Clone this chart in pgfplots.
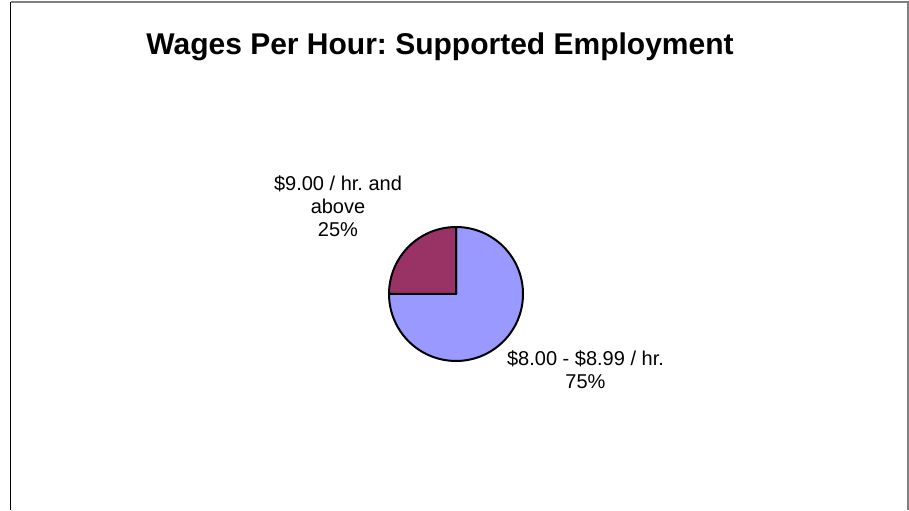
\documentclass[border=0pt]{standalone}
\usepackage{pgfplots}
\pgfplotsset{compat=1.18}
\usepackage{pgfplotstable}
\usepackage{fontspec}
\setmainfont{Liberation Sans}
\frenchspacing

\definecolor{pieblue}{HTML}{9999FF}
\definecolor{piered}{HTML}{993366}
\definecolor{framegray}{HTML}{808080}

% share of each wage band, in percent (clockwise from 12 o'clock)
\pgfplotstableread{
band value
low  75
high 25
}\piedata
\pgfplotstablegetelem{0}{value}\of\piedata \let\vlow\pgfplotsretval
\pgfplotstablegetelem{1}{value}\of\piedata \let\vhigh\pgfplotsretval
\pgfmathsetmacro\angA{90-3.6*\vlow}
\pgfmathsetmacro\angB{\angA-3.6*\vhigh}

\begin{document}
\begin{tikzpicture}
\begin{axis}[
    anchor=origin, at={(0,0)},
    width=909pt, height=510pt, scale only axis,
    xmin=0, xmax=909, ymin=0, ymax=510,
    hide axis, clip=false,
]
\path (axis cs:0,0) rectangle (axis cs:909,510);
% frame
\draw[framegray, line width=1.5pt] (axis cs:10.5,508) -- (axis cs:908,508) -- (axis cs:908,0);
\draw[black, line width=1.5pt] (axis cs:10.5,508) -- (axis cs:10.5,0);

% slices
\filldraw[fill=pieblue, draw=black, line width=2pt, line join=round]
    (axis cs:456,216) -- ++(90:67pt) arc[start angle=90, end angle=\angA, radius=67pt] -- cycle;
\filldraw[fill=piered, draw=black, line width=2pt, line join=round]
    (axis cs:456,216) -- ++(\angA:67pt) arc[start angle=\angA, end angle=\angB, radius=67pt] -- cycle;

% title and labels
\node[anchor=base, inner sep=0pt, font=\fontsize{30}{36}\selectfont\bfseries]
    at (axis cs:440,455) {Wages Per Hour: Supported Employment};
\node[anchor=base, inner sep=0pt, font=\fontsize{20}{23}\selectfont]
    at (axis cs:338,319) {\begin{tabular}[t]{@{}c@{}}\$9.00 / hr. and\\above\\25\%\end{tabular}};
\node[anchor=base, inner sep=0pt, font=\fontsize{20}{23}\selectfont]
    at (axis cs:585.5,144) {\begin{tabular}[t]{@{}c@{}}\$8.00 - \$8.99 / hr.\\75\%\end{tabular}};
\end{axis}
\end{tikzpicture}
\end{document}
